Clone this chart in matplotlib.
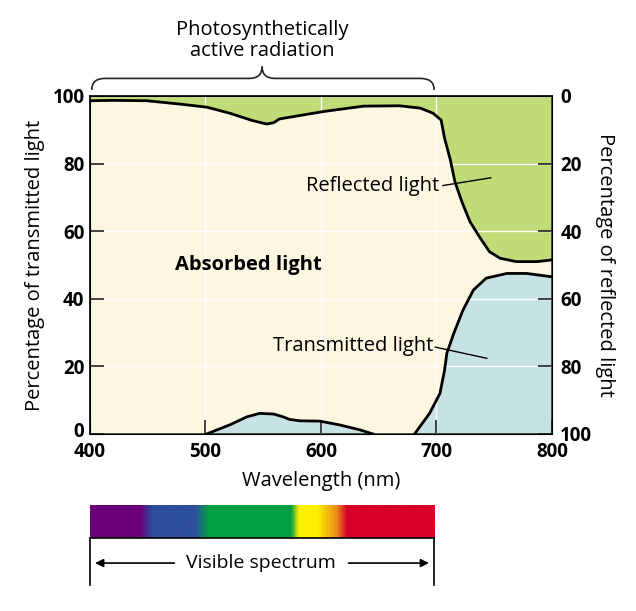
import numpy as np
import matplotlib.pyplot as plt
from matplotlib.path import Path
from matplotlib.patches import PathPatch
from matplotlib.colors import LinearSegmentedColormap
from matplotlib.transforms import ScaledTranslation

plt.rcParams['font.family'] = ['Open Sans', 'DejaVu Sans']

# Upper boundary (reflected light), in % transmitted coords
refl_wl = [400, 420, 449, 478, 501, 521, 541, 553, 559, 564, 602, 637, 668, 686,
           697, 704, 707, 712, 716, 722, 729, 738, 746, 755, 769, 787, 800]
refl_top = [98.6, 98.7, 98.6, 97.6, 96.7, 94.9, 92.7, 91.7, 92.1, 93.2, 95.4, 97.0,
            97.1, 96.4, 94.9, 92.9, 87.5, 81.1, 74.6, 68.7, 62.8, 57.9, 53.9, 52.0,
            51.0, 51.0, 51.5]

# Transmitted light, two humps
trans_wl_a = [501, 521, 536, 547, 559, 567, 573, 582, 599, 616, 634, 645]
trans_a = [0, 2.7, 5.1, 6.1, 5.9, 5.1, 4.3, 3.9, 3.8, 2.7, 1.2, 0]
trans_wl_b = [681, 694, 703, 707, 709, 715, 723, 732, 743, 761, 778, 800]
trans_b = [0, 6.1, 12.0, 18.9, 23.9, 29.8, 36.7, 42.6, 46.1, 47.5, 47.5, 46.5]

# Visible spectrum colour stops
spec_wl = [400, 443, 454, 491, 503, 575, 582, 598, 615, 624, 700]
spec_col = ['#6c0078', '#6c0078', '#2c4e9e', '#2c4e9e', '#00a040', '#00a040',
            '#fff000', '#fff000', '#ec8a1c', '#d60028', '#d60028']

green = '#c0dc78'
cream = '#fdf6e1'
blue = '#c6e2e2'
fs = 14.5

fig = plt.figure(figsize=(6.36, 6.11), dpi=100)
ax = fig.add_axes([0.1415, 0.2897, 0.7264, 0.5532])
ax.set_facecolor(cream)
ax.set_xlim(400, 800)
ax.set_ylim(0, 100)

ax.fill_between(refl_wl, refl_top, 100, color=green, lw=0, zorder=1)
ax.fill_between(trans_wl_a, 0, trans_a, color=blue, lw=0, zorder=1)
ax.fill_between(trans_wl_b, 0, trans_b, color=blue, lw=0, zorder=1)
for xs, ys in [(refl_wl, refl_top), (trans_wl_a, trans_a), (trans_wl_b, trans_b)]:
    ax.plot(xs, ys, color='black', lw=2, zorder=3, solid_joinstyle='round')

ax.set_axisbelow(False)
ax.set_xticks([400, 500, 600, 700, 800])
ax.set_yticks([0, 20, 40, 60, 80, 100])
ax.grid(True, color='white', lw=1)
ax.tick_params(direction='in', length=10, width=1.2, color='#222222',
               labelsize=13.5, pad=4)
ax.tick_params(axis='x', pad=6)
for lab in ax.get_xticklabels() + ax.get_yticklabels():
    lab.set_fontweight('bold')
# nudge the "0" label up a little so it clears "400"
zero = ax.get_yticklabels()[0]
zero.set_transform(zero.get_transform() + ScaledTranslation(0, 3 / 72, fig.dpi_scale_trans))
for s in ax.spines.values():
    s.set_linewidth(1.2)
ax.set_xlabel('Wavelength (nm)', fontsize=fs, labelpad=6)
ax.set_ylabel('Percentage of transmitted light', fontsize=fs, labelpad=5)

ax2 = ax.twinx()
ax2.set_ylim(100, 0)
ax2.set_yticks([0, 20, 40, 60, 80, 100])
ax2.tick_params(direction='in', length=10, width=1.2, color='#222222',
                labelsize=13.5, pad=6)
for lab in ax2.get_yticklabels():
    lab.set_fontweight('bold')
ax2.set_ylabel('Percentage of reflected light', fontsize=fs, rotation=-90,
               labelpad=16)

# Labels inside the plot
ax.text(474, 50, 'Absorbed light', fontsize=fs, fontweight='bold', va='center')
ax.text(702, 73.4, 'Reflected light', fontsize=fs, ha='right', va='center', zorder=4)
ax.plot([705.5, 747], [73.5, 75.8], color='black', lw=1, zorder=4)
ax.text(697, 26, 'Transmitted light', fontsize=fs, ha='right', va='center', zorder=4)
ax.plot([699, 743.5], [25.7, 22.4], color='black', lw=1, zorder=4)

# Brace over photosynthetically active radiation
verts = [(401.5, 101.8), (401.5, 105.2), (413, 105.2), (538, 105.2),
         (549, 105.2), (549, 108.7), (549, 105.2), (560, 105.2),
         (686, 105.2), (698, 105.2), (698, 101.8)]
codes = [Path.MOVETO, Path.CURVE3, Path.CURVE3, Path.LINETO,
         Path.CURVE3, Path.CURVE3, Path.CURVE3, Path.CURVE3,
         Path.LINETO, Path.CURVE3, Path.CURVE3]
ax.add_patch(PathPatch(Path(verts, codes), fill=False, lw=1.2,
                       edgecolor='#222222', clip_on=False))
ax.text(549, 110.3, 'Photosynthetically\nactive radiation', fontsize=fs,
        ha='center', va='bottom', linespacing=1.1)

# Visible spectrum bar
axs = fig.add_axes([0.1415, 0.1195, 0.5409, 0.054])
stops = [(w - 400) / 300 for w in spec_wl]
cmap = LinearSegmentedColormap.from_list('spec', list(zip(stops, spec_col)))
grad = np.linspace(0, 1, 600).reshape(1, -1)
axs.imshow(grad, cmap=cmap, aspect='auto', extent=[400, 700, 0, 1])
axs.set_xlim(400, 700)
axs.set_ylim(0, 1)
axs.set_xticks([])
axs.set_yticks([])
for k in ['top', 'left', 'right']:
    axs.spines[k].set_visible(False)
axs.spines['bottom'].set_linewidth(1.2)
axs.plot([400, 400], [0, -1.42], color='black', lw=1.2, clip_on=False)
axs.plot([700, 700], [0, -1.42], color='black', lw=1.2, clip_on=False)
axs.annotate('', xy=(402, -0.76), xytext=(476, -0.76), annotation_clip=False,
             arrowprops=dict(arrowstyle='-|>', color='black', lw=1.2,
                             mutation_scale=12))
axs.annotate('', xy=(698, -0.76), xytext=(623, -0.76), annotation_clip=False,
             arrowprops=dict(arrowstyle='-|>', color='black', lw=1.2,
                             mutation_scale=12))
axs.text(549, -0.76, 'Visible spectrum', fontsize=14, ha='center', va='center')

fig.savefig('out.png', dpi=100)
